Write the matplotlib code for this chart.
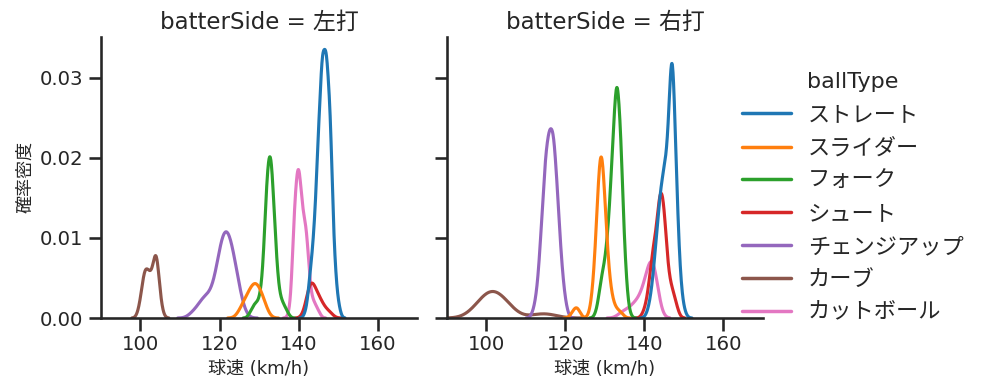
import numpy as np
import pandas as pd
import matplotlib
matplotlib.use("Agg")
import matplotlib.pyplot as plt
from matplotlib.lines import Line2D
import seaborn as sns

# ---------------- data (pitch speed counts, km/h) ----------------
sides = ["左打", "右打"]
ball_types = ["ストレート", "スライダー", "フォーク", "シュート", "チェンジアップ", "カーブ", "カットボール"]

# 左打
L_straight_speed = [142, 143, 144, 145, 146, 147, 148, 149, 150]
L_straight_count = [1, 6, 11, 23, 34, 34, 27, 8, 2]
L_slider_speed = [125, 126, 127, 128, 129, 130, 131, 132]
L_slider_count = [1, 2, 3, 4, 5, 4, 3, 1]
L_fork_speed = [128, 129, 130, 131, 132, 133, 134, 135, 136, 137]
L_fork_count = [1, 2, 2, 5, 19, 23, 11, 3, 2, 1]
L_shoot_speed = [142, 143, 144, 145, 146, 147, 148]
L_shoot_count = [2, 6, 4, 3, 2, 1, 1]
L_change_speed = [113, 114, 115, 116, 117, 118, 119, 120, 121, 122, 123, 124, 125, 126]
L_change_count = [1, 1, 2, 3, 3, 3, 5, 9, 12, 12, 10, 7, 4, 1]
L_curve_speed = [100, 101, 102, 103, 104, 105]
L_curve_count = [2, 7, 6, 5, 11, 2]
L_cut_speed = [138, 139, 140, 141, 142, 143, 144, 145]
L_cut_count = [1, 15, 21, 13, 12, 3, 2, 1]

# 右打
R_straight_speed = [141, 142, 143, 144, 145, 146, 147, 148, 149, 150]
R_straight_count = [1, 4, 10, 16, 19, 21, 40, 19, 5, 1]
R_slider_speed = [122, 123, 127, 128, 129, 130, 131, 132, 133, 134]
R_slider_count = [1, 2, 3, 12, 28, 14, 5, 2, 1, 1]
R_fork_speed = [128, 129, 130, 131, 132, 133, 134, 135, 136]
R_fork_count = [1, 5, 7, 12, 22, 32, 24, 8, 1]
R_shoot_speed = [140, 141, 142, 143, 144, 145, 146, 147, 148]
R_shoot_count = [1, 3, 9, 10, 18, 15, 5, 4, 2]
R_change_speed = [112, 113, 114, 115, 116, 117, 118, 119, 120]
R_change_count = [1, 4, 12, 21, 24, 24, 16, 7, 2]
R_curve_speed = [96, 97, 98, 99, 100, 101, 102, 103, 104, 105, 106, 107, 112, 114, 115, 117]
R_curve_count = [1, 1, 2, 3, 4, 4, 4, 4, 3, 2, 2, 1, 1, 1, 1, 1]
R_cut_speed = [134, 135, 136, 137, 138, 139, 140, 141, 142, 143]
R_cut_count = [1, 1, 1, 2, 2, 3, 4, 7, 10, 6]

x_ticks = [100, 120, 140, 160]
y_ticks = [0.00, 0.01, 0.02, 0.03]

# ---------------- build long table ----------------
groups = [
    ("左打", "ストレート", L_straight_speed, L_straight_count),
    ("左打", "スライダー", L_slider_speed, L_slider_count),
    ("左打", "フォーク", L_fork_speed, L_fork_count),
    ("左打", "シュート", L_shoot_speed, L_shoot_count),
    ("左打", "チェンジアップ", L_change_speed, L_change_count),
    ("左打", "カーブ", L_curve_speed, L_curve_count),
    ("左打", "カットボール", L_cut_speed, L_cut_count),
    ("右打", "ストレート", R_straight_speed, R_straight_count),
    ("右打", "スライダー", R_slider_speed, R_slider_count),
    ("右打", "フォーク", R_fork_speed, R_fork_count),
    ("右打", "シュート", R_shoot_speed, R_shoot_count),
    ("右打", "チェンジアップ", R_change_speed, R_change_count),
    ("右打", "カーブ", R_curve_speed, R_curve_count),
    ("右打", "カットボール", R_cut_speed, R_cut_count),
]
rows = []
for side, bt, sp, ct in groups:
    for s, c in zip(sp, ct):
        rows.extend([(side, bt, float(s))] * c)
df = pd.DataFrame(rows, columns=["batterSide", "ballType", "speed"])

# ---------------- style ----------------
sns.set_theme(style="ticks", context="talk")
plt.rcParams["font.family"] = ["DejaVu Sans", "Noto Sans CJK JP"]

palette = sns.color_palette("tab10", len(ball_types))

g = sns.displot(
    data=df, x="speed", hue="ballType", col="batterSide",
    kind="kde", hue_order=ball_types, col_order=sides,
    palette=palette, legend=False, height=3.9, aspect=1.0,
)
fig = g.figure
fig.set_size_inches(9.87, 3.91)
fig.subplots_adjust(left=0.1023, right=0.773, bottom=0.1867, top=0.9054, wspace=0.094)

g.set_titles("batterSide = {col_name}", size=16.5)
for ax in g.axes.flat:
    ax.set_xlim(90, 170)
    ax.set_ylim(0, 0.0351)
    ax.set_xticks(x_ticks)
    ax.set_yticks(y_ticks)
    ax.tick_params(labelsize=14.2)
    ax.set_xlabel("球速 (km/h)", fontsize=13)
    ax.set_ylabel("")
g.axes.flat[0].set_yticklabels([f"{v:.2f}" for v in y_ticks])
g.axes.flat[0].set_ylabel("確率密度", fontsize=13)

handles = [Line2D([0], [0], color=palette[i], lw=2.5) for i in range(len(ball_types))]
fig.legend(handles, ball_types, title="ballType", loc="center left",
           bbox_to_anchor=(0.7315, 0.495), frameon=False, fontsize=16,
           title_fontsize=16, handlelength=2.2, handletextpad=0.77,
           labelspacing=0.58)

fig.savefig("out.png", dpi=100)
